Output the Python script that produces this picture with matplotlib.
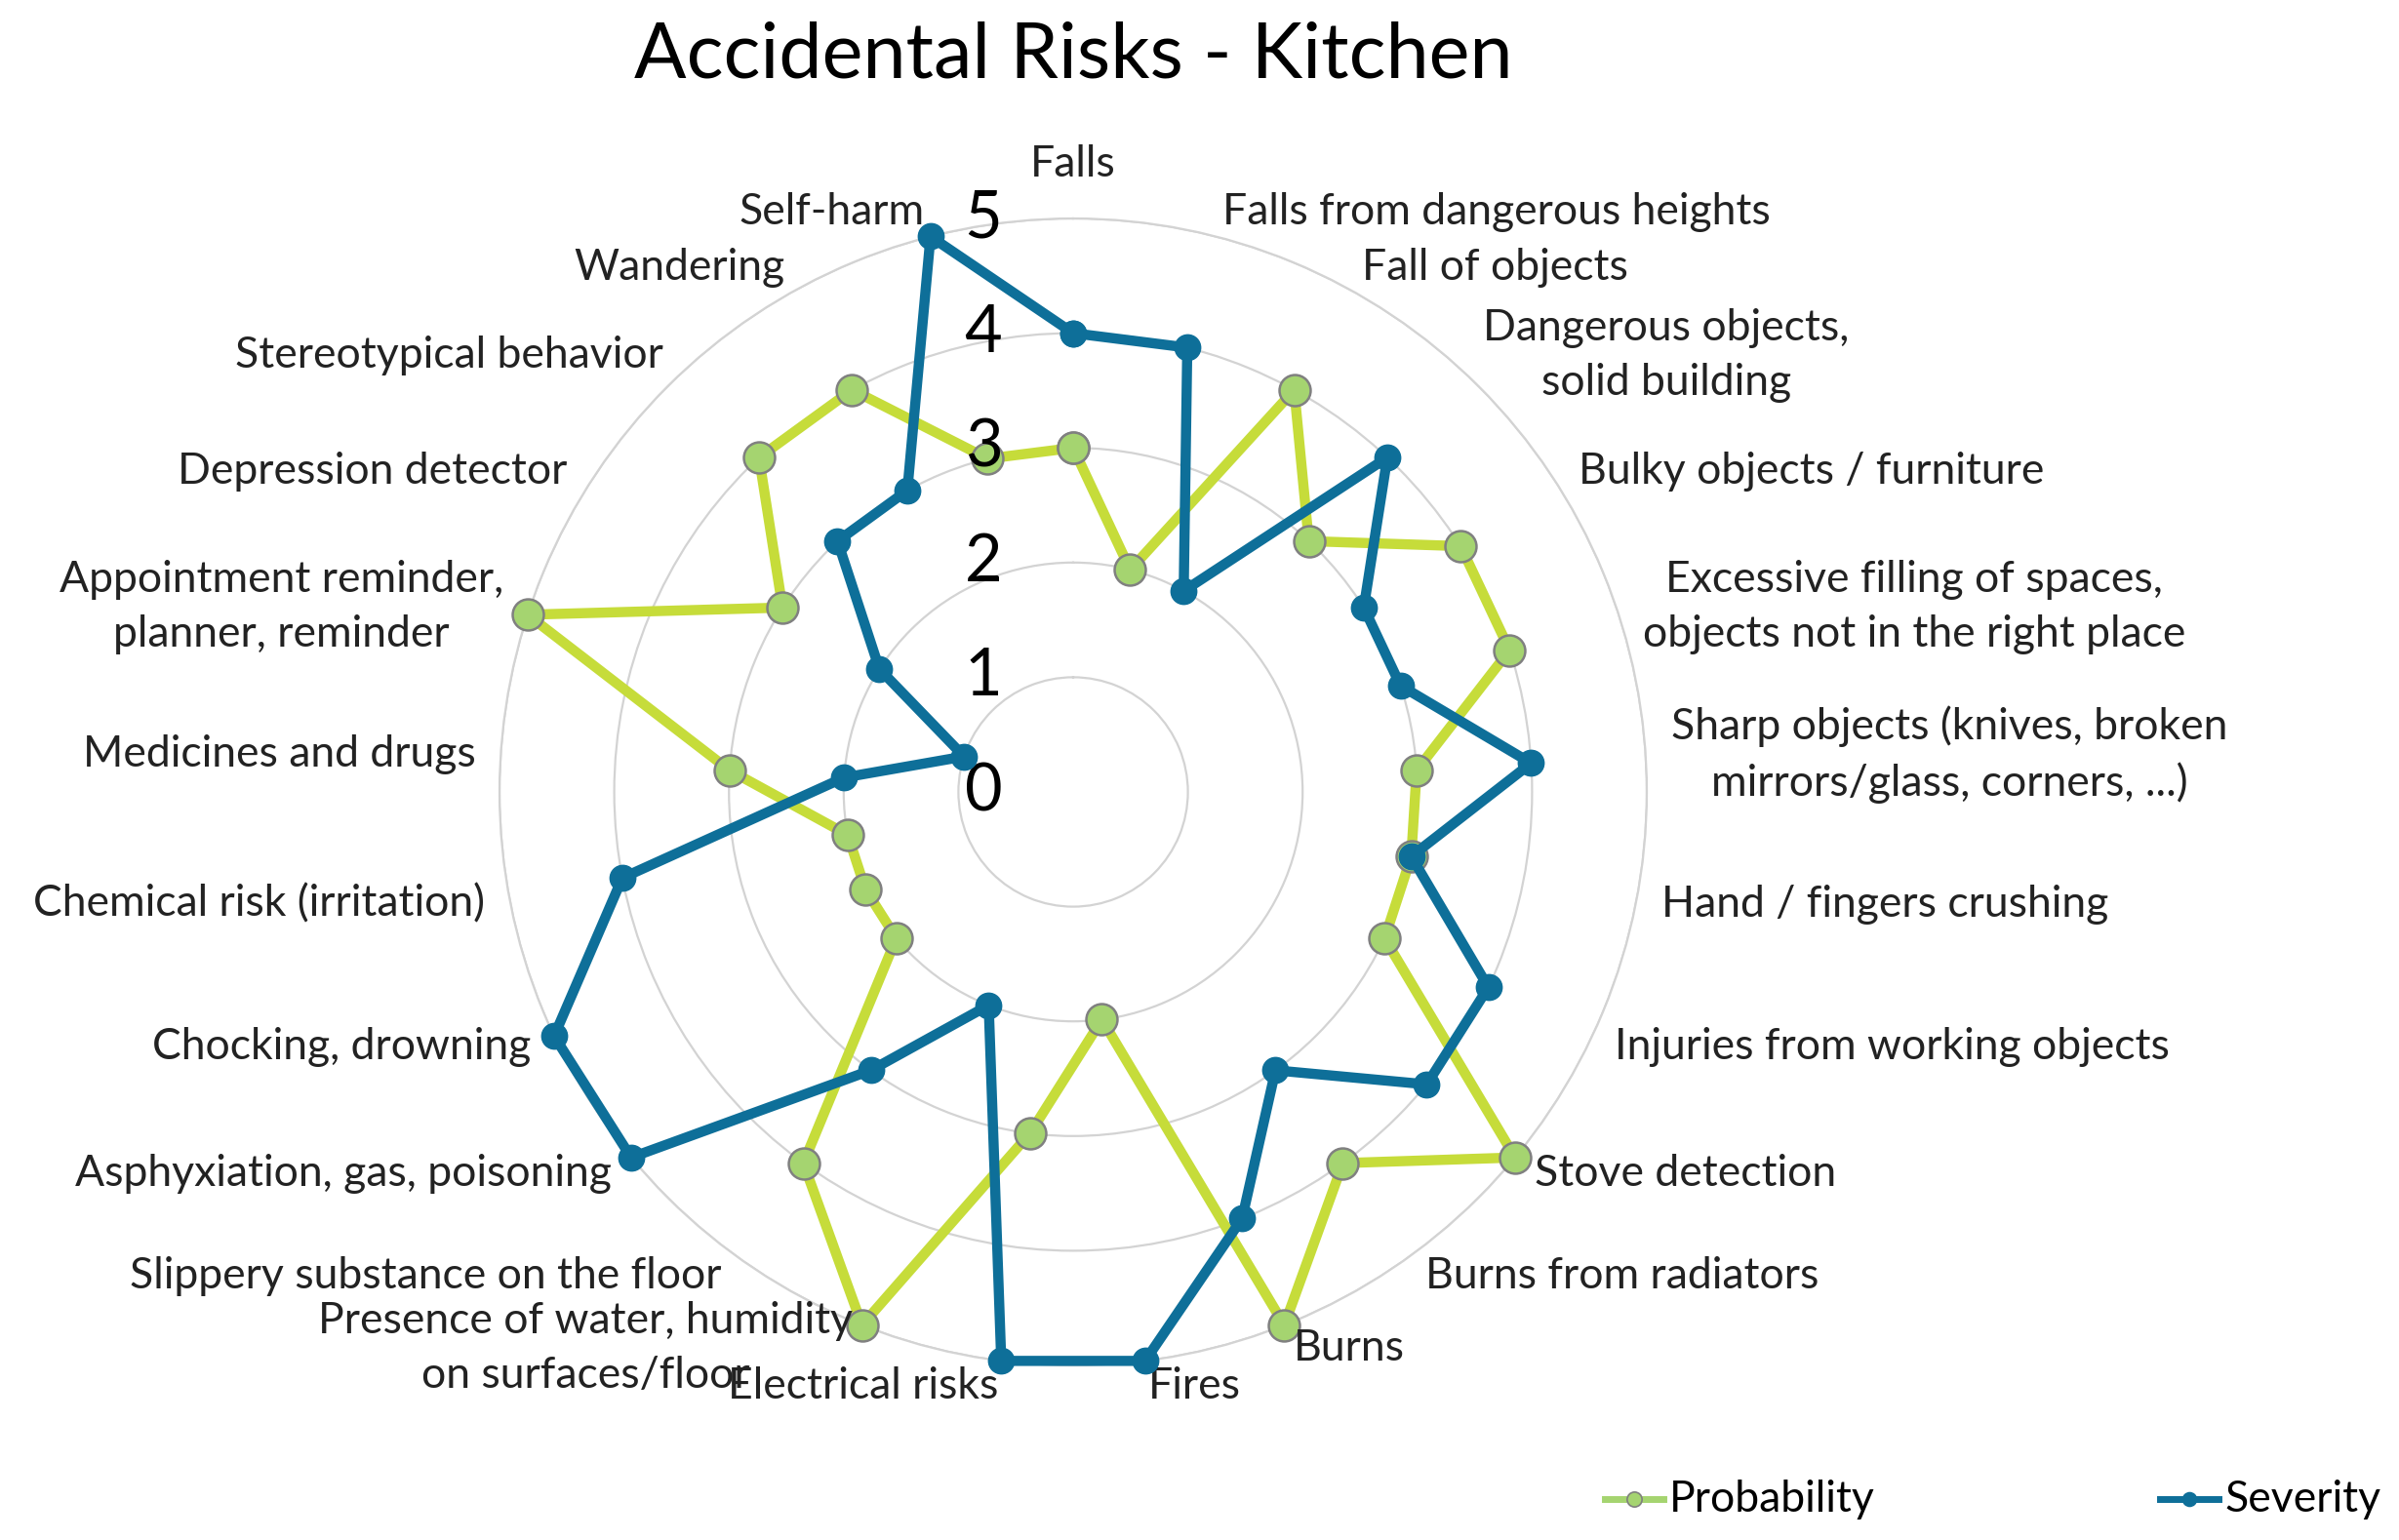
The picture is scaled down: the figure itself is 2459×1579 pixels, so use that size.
import matplotlib
matplotlib.use("Agg")
import matplotlib.pyplot as plt
import matplotlib.transforms as mtransforms
from matplotlib.lines import Line2D
import numpy as np

plt.rcParams["font.family"] = ["Lato", "DejaVu Sans"]

categories = [
    "Falls",
    "Falls from dangerous heights",
    "Fall of objects",
    "Dangerous objects,\nsolid building",
    "Bulky objects / furniture",
    "Excessive filling of spaces,\nobjects not in the right place",
    "Sharp objects (knives, broken\nmirrors/glass, corners, ...)",
    "Hand / fingers crushing",
    "Injuries from working objects",
    "Stove detection",
    "Burns from radiators",
    "Burns",
    "Fires",
    "Electrical risks",
    "Presence of water, humidity\non surfaces/floor",
    "Slippery substance on the floor",
    "Asphyxiation, gas, poisoning",
    "Chocking, drowning",
    "Chemical risk (irritation)",
    "Medicines and drugs",
    "Appointment reminder,\nplanner, reminder",
    "Depression detector",
    "Stereotypical behavior",
    "Wandering",
    "Self-harm",
]
probability = [3, 2, 4, 3, 4, 4, 3, 3, 3, 5, 4, 5, 2, 3, 5, 4, 2, 2, 2, 3, 5, 3, 4, 4, 3]
severity = [4, 4, 2, 4, 3, 3, 4, 3, 4, 4, 3, 4, 5, 5, 2, 3, 5, 5, 4, 2, 1, 2, 3, 3, 5]
r_ticks = [0, 1, 2, 3, 4, 5]

GREEN_LINE = "#c6dc3a"
GREEN_FACE = "#a5d470"
BLUE = "#0e6f99"
GRID = "#d3d3d3"

W, H = 2459, 1579
fig = plt.figure(figsize=(W / 100, H / 100), dpi=100)
fig.patch.set_facecolor("white")

cx, cy, R = 1100, 812, 588
ax = fig.add_axes([(cx - R) / W, (H - cy - R) / H, 2 * R / W, 2 * R / H], projection="polar")
ax.set_theta_offset(np.pi / 2)
ax.set_theta_direction(-1)
ax.set_ylim(0, 5)
ax.set_yticks(r_ticks[1:])
ax.set_yticklabels([])
ax.set_xticks([])
ax.yaxis.grid(True, color=GRID, lw=1.6)
ax.spines["polar"].set_color(GRID)
ax.spines["polar"].set_linewidth(1.6)
ax.set_facecolor("none")

n = len(categories)
ang = np.arange(n) * 2 * np.pi / n
ang_c = np.append(ang, ang[0])

ax.plot(ang_c, probability + probability[:1], color=GREEN_LINE, lw=7.5,
        marker="o", ms=23, mfc=GREEN_FACE, mec="#808080", mew=1.8, zorder=3, clip_on=False)
ax.plot(ang_c, severity + severity[:1], color=BLUE, lw=7.5,
        marker="o", ms=19, mfc=BLUE, mec=BLUE, zorder=4, clip_on=False)

# category labels around the outside
for a, lab in zip(ang, categories):
    s = np.sin(a)
    if abs(s) < 1e-6:
        ax.text(a, 5.3, lab, ha="center", va="bottom", fontsize=32, color="#222222")
        continue
    ha = "left" if s > 0 else "right"
    ax.text(a, 5.22, lab, ha=ha, va="center", ma="center", fontsize=32,
            linespacing=1.45, color="#222222")

# radial value labels to the left of the vertical axis
off = mtransforms.offset_copy(ax.transData, fig=fig, x=-92, y=0, units="dots")
for t in r_ticks:
    ax.text(0, t, str(t), transform=off, ha="center", va="center", fontsize=48, color="black")

fig.text(cx / W, 1 - 57 / H, "Accidental Risks - Kitchen", ha="center", va="center",
         fontsize=57, color="black")

# legend at the bottom right
ly = 1 - 1537 / H
for x0, x1, name, col, face, edge, ms in [
        (1645, 1705, "Probability", GREEN_FACE, GREEN_FACE, "#808080", 11),
        (2214, 2274, "Severity", BLUE, BLUE, BLUE, 10)]:
    fig.add_artist(Line2D([x0 / W, x1 / W], [ly, ly], color=col, lw=5))
    fig.add_artist(Line2D([(x0 + x1) / 2 / W], [ly], marker="o", ms=ms, mfc=face, mec=edge,
                          mew=1.2, color=col))
    fig.text((x1 + 6) / W, ly, name, ha="left", va="center", fontsize=32, color="black")

fig.savefig("out.png", dpi=100)
